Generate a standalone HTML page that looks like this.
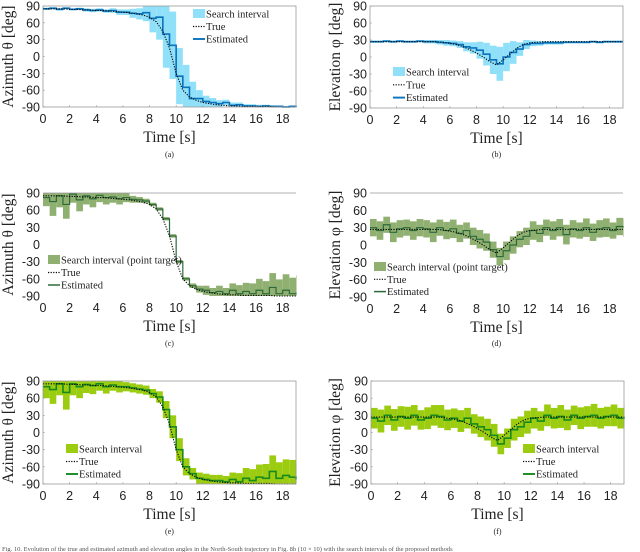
<!DOCTYPE html>
<html><head><meta charset="utf-8">
<style>
html,body{margin:0;padding:0;background:#fff;width:640px;height:552px;overflow:hidden}
svg{display:block}
.tk{font-family:"Liberation Sans",sans-serif;font-size:12.5px;fill:#222}
.lb{font-family:"Liberation Serif",serif;font-size:15.5px;fill:#222}
.lg{font-family:"Liberation Serif",serif;font-size:10.5px;fill:#222}
.sc{font-family:"Liberation Serif",serif;font-size:8px;fill:#222}
</style></head>
<body>
<svg id="fig" width="640" height="552" viewBox="0 0 640 552" xmlns="http://www.w3.org/2000/svg">
<text class="sc" x="2" y="551" style="font-size:6.5px;fill:#555">Fig. 10. Evolution of the true and estimated azimuth and elevation angles in the North-South trajectory in Fig. 8b (10 × 10) with the search intervals of the proposed methods</text>
</svg>
<script>
// time grid (s)
const timeStep = 0.5;
const xTicks = [0,2,4,6,8,10,12,14,16,18];
const yTicks = [90,60,30,0,-30,-60,-90];
const azTrue = [85,85,85,85,84,84,83,83,82,82,81,80,79,78,76,74,70,62,45,15,-30,-60,-72,-78,-82,-84,-86,-87,-88,-88,-89,-89,-89,-89,-89,-90,-90,-90,-90];
const elTrue = [27,27,27,27,27,27,27,27,27,27,27,26,24,22,18,13,7,0,-8,-14,-5,5,15,22,25,26,27,27,27,27,27,27,27,27,27,27,27,27,27];
const estA = [85,86,84,86,84,85,83,82,83,81,82,79,79,77,76,78,68,70,40,20,-35,-55,-75,-75,-80,-82,-84,-82,-87,-86,-88,-88,-89,-88,-89,-89,-90,-89,-88];
const widA = [2,2,2,2,2,2,3,3,3,3,4,5,5,8,10,15,25,40,60,60,50,40,30,15,10,8,6,5,5,4,3,3,3,2,2,2,2,2,2];
const estB = [27,27,28,27,28,27,27,28,27,27,26,25,24,22,18,16,12,5,-5,-12,0,8,14,22,24,24,25,25,25,26,26,26,26,27,26,27,27,27,27];
const widB = [2,2,2,2,2,2,2,2,3,3,4,5,5,6,8,10,15,20,25,30,25,20,12,8,5,4,3,3,3,2,2,2,2,2,2,2,2,2,2];
const estC = [82,75,85,70,88,78,85,80,86,82,83,80,82,79,78,76,70,62,45,15,-30,-60,-72,-78,-80,-84,-82,-86,-80,-86,-82,-86,-80,-86,-75,-86,-80,-86,-84];
const widC = [15,25,20,25,15,20,15,15,12,12,10,10,8,6,5,4,3,3,3,3,3,3,4,6,8,8,10,10,12,15,15,18,20,22,25,25,28,28,30];
const estD = [30,25,35,22,28,30,25,30,28,22,30,25,28,20,25,15,10,5,-8,-20,-10,0,10,15,25,20,30,25,30,18,28,25,30,22,28,30,25,32,30];
const widD = [15,16,14,17,15,14,16,15,15,17,14,15,16,15,14,15,16,15,14,15,16,15,14,15,16,15,14,16,15,17,15,14,16,15,15,16,14,15,16];
const estE = [80,75,85,70,85,80,84,82,85,80,83,80,80,78,76,74,68,62,40,10,-30,-60,-72,-80,-82,-84,-84,-86,-82,-86,-80,-84,-78,-80,-68,-80,-75,-78,-82];
const widE = [20,25,20,30,20,20,15,15,12,12,10,10,8,8,8,8,8,10,15,20,20,15,10,10,10,10,10,10,12,15,18,20,22,25,28,28,28,30,30];
const estF = [25,20,30,22,28,25,30,22,25,30,28,22,25,20,25,15,10,5,-5,-20,-10,5,10,18,25,20,30,25,28,22,30,25,28,30,25,28,30,25,28];
const widF = [18,20,17,19,18,20,18,17,19,18,20,18,17,19,18,17,18,19,20,18,17,19,18,20,18,17,19,18,20,18,17,19,18,20,18,17,19,18,20];

const NS="http://www.w3.org/2000/svg";
const fig=document.getElementById('fig');
function mk(tag,attrs,parent){const e=document.createElementNS(NS,tag);for(const k in attrs)e.setAttribute(k,attrs[k]);(parent||fig).appendChild(e);return e;}

function panel(p){
  const g=mk('g',{});
  
  
  const xs=t=>p.x0+(p.x1-p.x0)*t/19;
  const ys=v=>p.yb+(p.yt-p.yb)*(v+90)/180;
  // intervals
  const n=p.est.length;
  for(let i=0;i<n;i++){
    const t0=i*timeStep, t1=Math.min(19,t0+timeStep);
    const hi=Math.min(90,p.est[i]+p.wid[i]), lo=Math.max(-90,p.est[i]-p.wid[i]);
    const r=mk('rect',{x:xs(t0),y:ys(hi),width:Math.max(0.5,xs(t1)-xs(t0)),height:Math.max(0.5,ys(lo)-ys(hi)),fill:p.fill},g);
    
    
  }
  // estimated stairs
  let d='';
  for(let i=0;i<n;i++){
    const t0=i*timeStep,t1=Math.min(19,t0+timeStep);
    d+=(i?'L':'M')+xs(t0)+' '+ys(p.est[i])+'L'+xs(t1)+' '+ys(p.est[i]);
  }
  const es=mk('path',{d:d,fill:'none',stroke:p.line,'stroke-width':p.lw},g);
  
  
  // true
  let dt='';
  p.tru.forEach((v,i)=>{dt+=(i?'L':'M')+xs(Math.min(19,i*timeStep))+' '+ys(v);});
  const tr=mk('path',{d:dt,fill:'none',stroke:'#000','stroke-width':1.1,'stroke-dasharray':'1.2 1.4'},g);
  
  
  // axes
  if(p.box){
    mk('rect',{x:p.x0,y:p.yt,width:p.x1-p.x0,height:p.yb-p.yt,fill:'none',stroke:'#999','stroke-width':0.8},g);
  } else {
    mk('line',{x1:p.x0,y1:p.yt,x2:p.x1,y2:p.yt,stroke:'#999','stroke-width':0.8},g);
  }
  yTicks.forEach(v=>{
    const t=mk('text',{class:'tk',x:p.x0-3,y:ys(v)+4.5,'text-anchor':'end'},g);
    t.textContent=v;
    
    
    if(p.box){mk('line',{x1:p.x0,y1:ys(v),x2:p.x0+2,y2:ys(v),stroke:'#999','stroke-width':0.6},g);}
  });
  xTicks.forEach(v=>{
    const t=mk('text',{class:'tk',x:xs(v),y:p.yb+16,'text-anchor':'middle'},g);
    t.textContent=v;
    
    
    if(p.box){mk('line',{x1:xs(v),y1:p.yb,x2:xs(v),y2:p.yb-2,stroke:'#999','stroke-width':0.6},g);}
  });
  const xl=mk('text',{class:'lb',x:(p.x0+p.x1)/2,y:p.yb+35,'text-anchor':'middle'},g);
  xl.textContent='Time [s]';
  
  
  const cy=(p.yt+p.yb)/2;
  const yl=mk('text',{class:'lb',x:p.ylx,y:cy,'text-anchor':'middle',transform:'rotate(-90 '+p.ylx+' '+cy+')'},g);
  yl.textContent=p.ylab;
  
  
  const sc=mk('text',{class:'sc',x:(p.x0+p.x1)/2,y:p.scy,'text-anchor':'middle'},g);
  sc.textContent=p.sub;
  
  
  // legend
  const lg=mk('g',{},g);
  
  
  const L=p.leg;
  mk('rect',{x:L.x,y:L.y-5,width:12,height:9,fill:p.fill},lg);
  mk('line',{x1:L.x,y1:L.y+L.dy,x2:L.x+12,y2:L.y+L.dy,stroke:'#000','stroke-width':1.2,'stroke-dasharray':'1.2 1.4'},lg);
  mk('line',{x1:L.x,y1:L.y+2*L.dy,x2:L.x+12,y2:L.y+2*L.dy,stroke:p.line,'stroke-width':p.lw+0.3},lg);
  [p.legText,'True','Estimated'].forEach((s,i)=>{
    const t=mk('text',{class:'lg',x:L.x+13,y:L.y+i*L.dy+3.5},lg);
    t.textContent=s;
    
    
  });
}

const AZ='Azimuth θ [deg]', EL='Elevation φ [deg]';
panel({name:'panel-a-azimuth',x0:43,x1:296,yt:6,yb:107,box:true,est:estA,wid:widA,tru:azTrue,fill:'#8fe0f8',line:'#0b72bd',lw:1.6,ylab:AZ,ylx:13,sub:'(a)',scy:157,leg:{x:193,y:14,dy:12.5},legText:'Search interval'});
panel({name:'panel-b-elevation',x0:370,x1:623,yt:6,yb:108,box:true,est:estB,wid:widB,tru:elTrue,fill:'#8fe0f8',line:'#0b72bd',lw:1.6,ylab:EL,ylx:340,sub:'(b)',scy:157,leg:{x:393,y:72,dy:12.8},legText:'Search interval'});
panel({name:'panel-c-azimuth',x0:43,x1:296,yt:193,yb:296,box:false,est:estC,wid:widC,tru:azTrue,fill:'#8fb070',line:'#2c6a3a',lw:1.2,ylab:AZ,ylx:13,sub:'(c)',scy:346,leg:{x:48,y:260,dy:12.5},legText:'Search interval (point target)'});
panel({name:'panel-d-elevation',x0:370,x1:623,yt:193,yb:297,box:false,est:estD,wid:widD,tru:elTrue,fill:'#8fb070',line:'#2c6a3a',lw:1.2,ylab:EL,ylx:340,sub:'(d)',scy:346,leg:{x:374,y:267,dy:12.3},legText:'Search interval (point target)'});
panel({name:'panel-e-azimuth',x0:43,x1:296,yt:381,yb:484,box:true,est:estE,wid:widE,tru:azTrue,fill:'#9ccc10',line:'#178a1e',lw:1.6,ylab:AZ,ylx:13,sub:'(e)',scy:534,leg:{x:66,y:449,dy:12.5},legText:'Search interval'});
panel({name:'panel-f-elevation',x0:371,x1:624,yt:381,yb:484,box:true,est:estF,wid:widF,tru:elTrue,fill:'#9ccc10',line:'#178a1e',lw:1.6,ylab:EL,ylx:340,sub:'(f)',scy:534,leg:{x:523,y:449,dy:12.5},legText:'Search interval'});
</script>
</body></html>
